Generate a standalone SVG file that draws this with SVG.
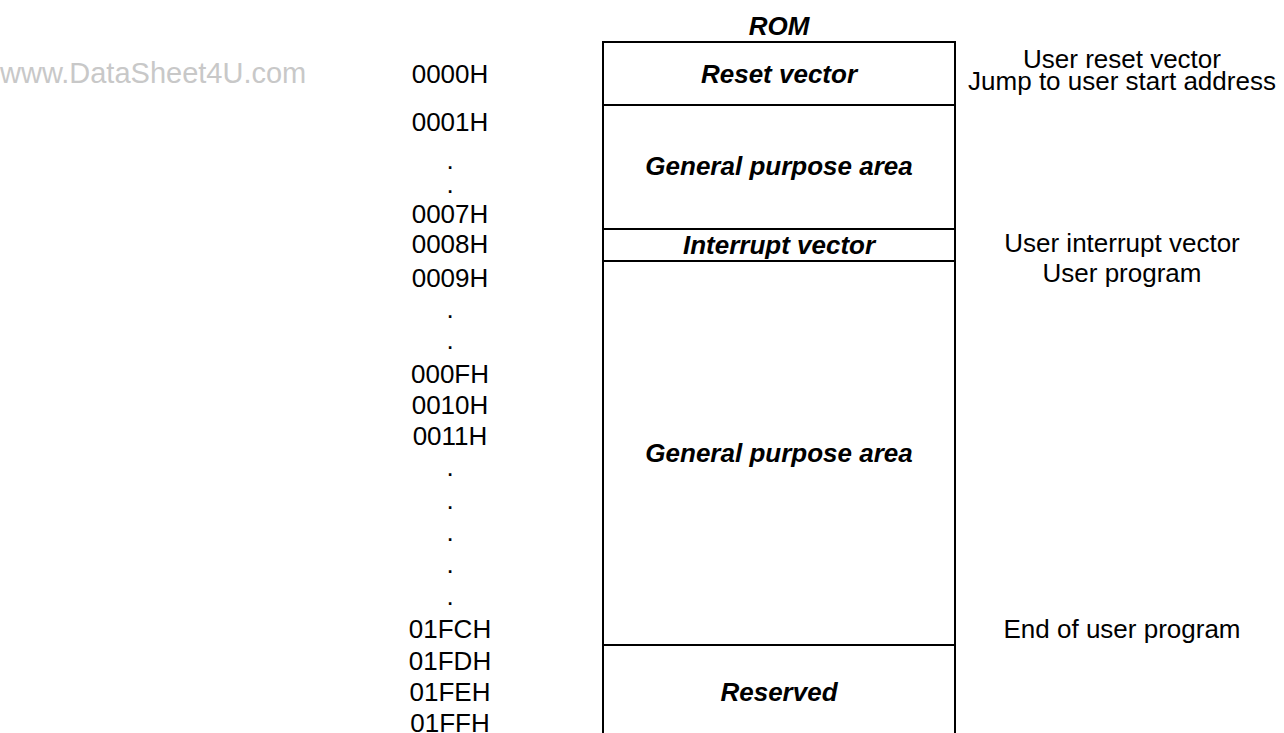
<svg xmlns="http://www.w3.org/2000/svg" width="1284" height="733" viewBox="0 0 1284 733">
<style>
text{font-family:"Liberation Sans",Arial,sans-serif;font-size:26px;fill:#000}
.addr{text-anchor:middle}
.lbl{text-anchor:middle;font-weight:bold;font-style:italic}
.note{text-anchor:middle}
.wm{font-size:29px;fill:#c8c8c8}
.ln{stroke:#000;stroke-width:2;fill:none}
</style>
<rect width="1284" height="733" fill="#fff"/>
<text class="wm" x="0" y="83">www.DataSheet4U.com</text>
<g id="rom-title"><text class="lbl" x="779" y="35">ROM</text></g>
<g id="rom-box">
<path class="ln" d="M603,734 V42 H955 V734"/>
</g>
<g id="reset-vector">
<line class="ln" x1="603" y1="105" x2="955" y2="105"/>
<text class="lbl" x="779" y="83">Reset vector</text>
</g>
<g id="general-area-1">
<line class="ln" x1="603" y1="229" x2="955" y2="229"/>
<text class="lbl" x="779" y="175">General purpose area</text>
</g>
<g id="interrupt-vector">
<line class="ln" x1="603" y1="261" x2="955" y2="261"/>
<text class="lbl" x="779" y="254">Interrupt vector</text>
</g>
<g id="general-area-2">
<line class="ln" x1="603" y1="645" x2="955" y2="645"/>
<text class="lbl" x="779" y="462">General purpose area</text>
</g>
<g id="reserved">
<text class="lbl" x="779" y="701">Reserved</text>
</g>
<g id="addresses">
<text class="addr" x="450" y="83">0000H</text>
<text class="addr" x="450" y="131">0001H</text>
<text class="addr" x="450" y="169">.</text>
<text class="addr" x="450" y="193">.</text>
<text class="addr" x="450" y="223">0007H</text>
<text class="addr" x="450" y="253">0008H</text>
<text class="addr" x="450" y="287">0009H</text>
<text class="addr" x="450" y="318">.</text>
<text class="addr" x="450" y="349">.</text>
<text class="addr" x="450" y="383">000FH</text>
<text class="addr" x="450" y="414">0010H</text>
<text class="addr" x="450" y="445">0011H</text>
<text class="addr" x="450" y="476">.</text>
<text class="addr" x="450" y="509">.</text>
<text class="addr" x="450" y="541">.</text>
<text class="addr" x="450" y="573">.</text>
<text class="addr" x="450" y="605">.</text>
<text class="addr" x="450" y="638">01FCH</text>
<text class="addr" x="450" y="670">01FDH</text>
<text class="addr" x="450" y="701">01FEH</text>
<text class="addr" x="450" y="732">01FFH</text>
</g>
<g id="notes">
<text class="note" x="1122" y="68">User reset vector</text>
<text class="note" x="1122" y="90">Jump to user start address</text>
<text class="note" x="1122" y="252">User interrupt vector</text>
<text class="note" x="1122" y="282">User program</text>
<text class="note" x="1122" y="638">End of user program</text>
</g>
<g id="connectors"></g>
</svg>
